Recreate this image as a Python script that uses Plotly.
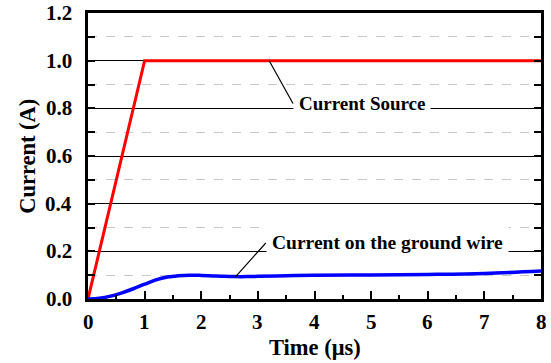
import plotly.graph_objects as go

# Time axis in microseconds
time_source = [0, 1, 8]
current_source = [0, 1.0, 1.0]

time_ground = [0, 0.2, 0.4, 0.6, 0.8, 1.0, 1.2, 1.4, 1.6, 1.8, 2.0, 2.2, 2.4,
               2.6, 2.8, 3.0, 3.5, 4, 5, 6, 7, 8]
current_ground = [0, 0.003, 0.012, 0.026, 0.043, 0.062, 0.08, 0.092, 0.098,
                  0.1, 0.099, 0.097, 0.095, 0.094, 0.094, 0.095, 0.098, 0.1,
                  0.101, 0.103, 0.107, 0.117]

x_ticks = [0, 1, 2, 3, 4, 5, 6, 7, 8]
y_ticks = [0.0, 0.2, 0.4, 0.6, 0.8, 1.0, 1.2]

font_family = "Liberation Serif"
bold = lambda size: dict(size=size, family=font_family, weight="bold", color="black")

fig = go.Figure()
fig.add_trace(go.Scatter(x=time_source, y=current_source, mode="lines",
                         line=dict(color="#ff0000", width=3), name="Current Source"))
fig.add_trace(go.Scatter(x=time_ground, y=current_ground, mode="lines",
                         line=dict(color="#0000ff", width=3.5, shape="spline"),
                         name="Current on the ground wire"))

fig.update_layout(
    width=551, height=363,
    margin=dict(l=88, r=10, t=13, b=64),
    plot_bgcolor="white", paper_bgcolor="white",
    showlegend=False,
    font=dict(family=font_family, color="black"),
    xaxis=dict(
        range=[0, 8], tickvals=x_ticks, showticklabels=False,
        showgrid=False, zeroline=False, automargin=False,
        showline=True, linecolor="black", linewidth=2.5, mirror=True,
        ticks="inside", ticklen=8, tickwidth=2, tickcolor="black",
        minor=dict(dtick=0.5, ticks="inside", ticklen=4, tickwidth=2, tickcolor="black"),
    ),
    yaxis=dict(
        range=[0, 1.2], tickvals=y_ticks, showticklabels=False,
        showgrid=True, gridcolor="black", gridwidth=1.2, zeroline=False, automargin=False,
        showline=True, linecolor="black", linewidth=2.5, mirror="ticks",
        ticks="inside", ticklen=7, tickwidth=2, tickcolor="black",
        minor=dict(dtick=0.1, ticks="inside", ticklen=7, tickwidth=2, tickcolor="black",
                   showgrid=True, gridcolor="#c8c8c8", griddash="dash", gridwidth=1),
    ),
)

# Tick labels, placed on the axes' own scales
for v in y_ticks:
    fig.add_annotation(xref="paper", yref="y", x=-0.031, y=v, text=f"<b>{v:.1f}</b>",
                       showarrow=False, font=bold(21), xanchor="right", yanchor="middle")
for v in x_ticks:
    fig.add_annotation(xref="x", yref="paper", x=v, y=-0.08, text=f"<b>{v}</b>",
                       showarrow=False, font=bold(21), xanchor="center", yanchor="middle")

# Axis titles
fig.add_annotation(
    xref="paper", yref="paper", x=-0.135, y=0.5, textangle=-90,
    text="<b>Current (A)</b>", showarrow=False, font=bold(22.5),
    xanchor="center", yanchor="middle",
)
fig.add_annotation(
    xref="paper", yref="paper", x=0.5, y=-0.168,
    text="<b>Time (μs)</b>", showarrow=False, font=bold(22.5),
    xanchor="center", yanchor="middle",
)

# Curve callouts
fig.add_annotation(
    x=3.2, y=1.0, ax=3.62, ay=0.82, axref="x", ayref="y",
    text="<b>Current Source</b>", showarrow=True, arrowhead=0, arrowwidth=1.2,
    arrowcolor="black", standoff=0,
    font=bold(19), bgcolor="white", borderpad=5, xanchor="left", yanchor="middle",
)
fig.add_annotation(
    x=2.6, y=0.092, ax=3.14, ay=0.235, axref="x", ayref="y",
    text="<b>Current on the ground wire</b>", showarrow=True, arrowhead=0, arrowwidth=1.2,
    arrowcolor="black", standoff=0,
    font=bold(19.5), bgcolor="white", borderpad=5, xanchor="left", yanchor="middle",
)

fig.write_html("out.html")
